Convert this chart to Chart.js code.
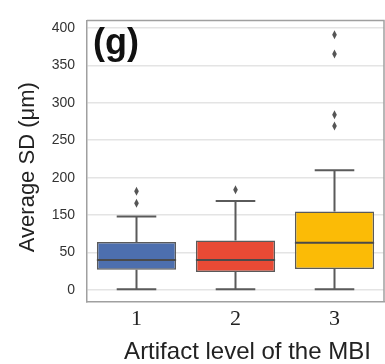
<!DOCTYPE html>
<html>
<head>
<meta charset="utf-8">
<script src="https://cdn.jsdelivr.net/npm/chart.js@4.4.1/dist/chart.umd.min.js"></script>
<style>
  html, body { margin: 0; padding: 0; background: #fff; }
  #wrap { width: 385px; height: 364px; }
</style>
</head>
<body>
<div id="wrap"><canvas id="boxChart"></canvas></div>
<script>
// Box plot summary per artifact level
const categories = ['1', '2', '3'];
const whiskerLow = [1, 1, 1];
const q1 = [27, 24, 28];
const median = [40, 40, 63];
const q3 = [64, 66, 105];
const whiskerHigh = [98, 119, 160];
const outliers = [[116, 132], [134], [219, 234, 315, 341]];
const boxColors = ['#4d6fae', '#e84a35', '#fbbb06'];

// y axis ticks, labelled as printed in the figure
const tickValues = [0, 50, 100, 150, 200, 250, 300, 350];
const tickLabels = ['0', '50', '150', '200', '250', '300', '350', '400'];

const panelLabel = '(g)';
const yTitle = 'Average SD (μm)';
const xTitle = 'Artifact level of the MBI';

const lineGray = '#5a5a5a';
const frameGray = '#a0a0a0';

// whiskers, medians, outliers, frame and titles
const boxExtras = {
    id: 'boxExtras',
    afterDatasetsDraw(chart) {
        const ctx = chart.ctx;
        const xs = chart.scales.x;
        const ys = chart.scales.y;
        const bars = chart.getDatasetMeta(0).data;
        ctx.save();
        categories.forEach((c, i) => {
            const x = xs.getPixelForValue(i);
            const half = bars[i].width / 2;
            const cap = half / 2;
            ctx.strokeStyle = lineGray;
            ctx.lineWidth = 2;
            ctx.beginPath();
            // upper whisker
            ctx.moveTo(x, ys.getPixelForValue(q3[i]));
            ctx.lineTo(x, ys.getPixelForValue(whiskerHigh[i]));
            ctx.moveTo(x - cap, ys.getPixelForValue(whiskerHigh[i]));
            ctx.lineTo(x + cap, ys.getPixelForValue(whiskerHigh[i]));
            // lower whisker
            ctx.moveTo(x, ys.getPixelForValue(q1[i]));
            ctx.lineTo(x, ys.getPixelForValue(whiskerLow[i]));
            ctx.moveTo(x - cap, ys.getPixelForValue(whiskerLow[i]));
            ctx.lineTo(x + cap, ys.getPixelForValue(whiskerLow[i]));
            ctx.stroke();
            // median
            ctx.strokeStyle = '#4a4a4a';
            ctx.beginPath();
            ctx.moveTo(x - half, ys.getPixelForValue(median[i]));
            ctx.lineTo(x + half, ys.getPixelForValue(median[i]));
            ctx.stroke();
            // outliers as thin diamonds
            ctx.fillStyle = '#555';
            outliers[i].forEach(v => {
                const y = ys.getPixelForValue(v);
                ctx.beginPath();
                ctx.moveTo(x, y - 4.5);
                ctx.lineTo(x + 2.3, y);
                ctx.lineTo(x, y + 4.5);
                ctx.lineTo(x - 2.3, y);
                ctx.closePath();
                ctx.fill();
            });
        });
        ctx.restore();
    },
    afterDraw(chart) {
        const ctx = chart.ctx;
        const a = chart.chartArea;
        ctx.save();
        // top and right frame
        ctx.strokeStyle = frameGray;
        ctx.lineWidth = 1.5;
        ctx.beginPath();
        ctx.moveTo(a.left, a.top);
        ctx.lineTo(a.right, a.top);
        ctx.lineTo(a.right, a.bottom);
        ctx.stroke();
        // panel label
        ctx.fillStyle = '#111';
        ctx.font = 'bold 36px "Liberation Sans", Arial, sans-serif';
        ctx.textAlign = 'left';
        ctx.textBaseline = 'alphabetic';
        ctx.fillText(panelLabel, a.left + 6, a.top + 34);
        // axis titles
        ctx.fillStyle = '#222';
        ctx.font = '24px "Liberation Sans", Arial, sans-serif';
        ctx.textAlign = 'center';
        ctx.fillText(xTitle, (a.left + a.right) / 2 + 12, 359);
        ctx.translate(28, (a.top + a.bottom) / 2 + 6);
        ctx.rotate(-Math.PI / 2);
        ctx.font = '22px "Liberation Sans", Arial, sans-serif';
        ctx.textBaseline = 'middle';
        ctx.fillText(yTitle, 0, 0);
        ctx.restore();
    }
};

const ctx = document.getElementById('boxChart');
const myChart = new Chart(ctx, {
    type: 'bar',
    data: {
        labels: categories,
        datasets: [{
            data: q1.map((v, i) => [v, q3[i]]),
            backgroundColor: boxColors,
            borderColor: lineGray,
            borderWidth: 1.5,
            borderSkipped: false,
            categoryPercentage: 0.8,
            barPercentage: 1.0,
        }]
    },
    options: {
        responsive: true,
        maintainAspectRatio: false,
        animation: false,
        layout: { padding: { top: 7, right: 1, left: 0, bottom: 0 } },
        plugins: {
            legend: { display: false },
            tooltip: { enabled: false },
        },
        scales: {
            x: {
                grid: { display: false, drawTicks: false },
                border: { display: true, color: frameGray, width: 1.5 },
                ticks: {
                    padding: 4,
                    color: '#222',
                    font: { family: '"Liberation Serif", "Times New Roman", serif', size: 22 },
                },
                afterFit(scale) { scale.height = 62; },
            },
            y: {
                min: -16,
                max: 360,
                afterBuildTicks(scale) {
                    scale.ticks = tickValues.map(v => ({ value: v }));
                },
                grid: { color: '#e4e4e4', lineWidth: 1.5, drawTicks: false },
                border: { display: true, color: frameGray, width: 1.5 },
                ticks: {
                    padding: 12,
                    color: '#333',
                    font: { family: '"Liberation Sans", Arial, sans-serif', size: 14 },
                    callback: (value, index) => tickLabels[index],
                },
                afterFit(scale) { scale.width = 87; },
            }
        }
    },
    plugins: [boxExtras]
});
</script>
</body>
</html>
